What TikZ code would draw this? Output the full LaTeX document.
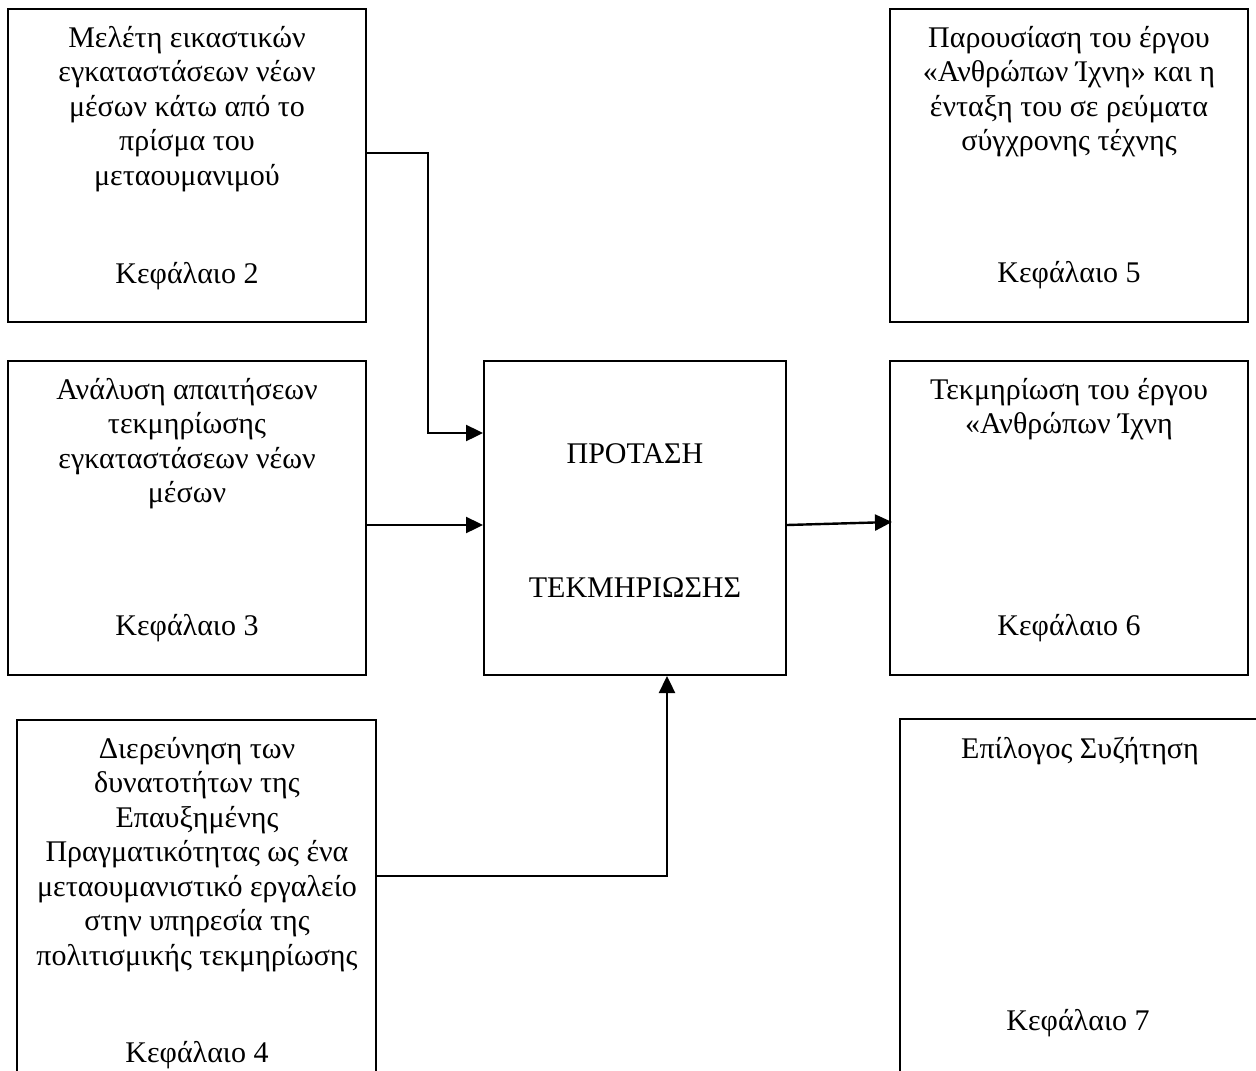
\documentclass[tikz,border=0pt]{standalone}
\usepackage{fontspec}
\setmainfont{Liberation Serif}
\usetikzlibrary{arrows.meta}
\begin{document}
\begin{tikzpicture}[x=1pt,y=-1pt,
  box/.style={draw, line width=2pt, inner sep=0pt},
  txt/.style={font=\fontsize{30}{34.5}\selectfont, align=center, inner sep=0pt},
  arr/.style={line width=2.4pt, -{Triangle[length=17pt,width=16pt]}}]
\useasboundingbox (0,0) rectangle (1256,1071);
\clip (0,0) rectangle (1256,1071);
% boxes
\node[box, minimum width=358pt, minimum height=313pt] (b2) at (187,165.5) {};
\node[box, minimum width=358pt, minimum height=313pt] (b5) at (1069,165.5) {};
\node[box, minimum width=358pt, minimum height=314pt] (b3) at (187,518) {};
\node[box, minimum width=302pt, minimum height=314pt] (c) at (635,518) {};
\node[box, minimum width=358pt, minimum height=314pt] (b6) at (1069,518) {};
\node[box, minimum width=359pt, minimum height=380pt] (b4) at (196.5,910) {};
\node[box, minimum width=360pt, minimum height=381pt] (b7) at (1080,909.5) {};
% texts
\node[txt, anchor=north] (t2) at (187,22.85) {\strut Μελέτη εικαστικών\\εγκαταστάσεων νέων\\μέσων κάτω από το\\πρίσμα του\\μεταουμανιμού};
\node[txt, anchor=base] (k2) at (187,283) {Κεφάλαιο 2};
\node[txt, anchor=north] (t5) at (1069,22.85) {\strut Παρουσίαση του έργου\\«Ανθρώπων Ίχνη» και η\\ένταξη του σε ρεύματα\\σύγχρονης τέχνης};
\node[txt, anchor=base] (k5) at (1069,282) {Κεφάλαιο 5};
\node[txt, anchor=north] (t3) at (187,374.85) {\strut Ανάλυση απαιτήσεων\\τεκμηρίωσης\\εγκαταστάσεων νέων\\μέσων};
\node[txt, anchor=base] (k3) at (187,635) {Κεφάλαιο 3};
\node[txt, anchor=base] (tc1) at (635,463) {ΠΡΟΤΑΣΗ};
\node[txt, anchor=base] (tc2) at (635,597) {ΤΕΚΜΗΡΙΩΣΗΣ};
\node[txt, anchor=north] (t6) at (1069,374.85) {\strut Τεκμηρίωση του έργου\\«Ανθρώπων Ίχνη};
\node[txt, anchor=base] (k6) at (1069,635) {Κεφάλαιο 6};
\node[txt, anchor=north] (t4) at (197,733.85) {\strut Διερεύνηση των\\δυνατοτήτων της\\Επαυξημένης\\Πραγματικότητας ως ένα\\μεταουμανιστικό εργαλείο\\στην υπηρεσία της\\πολιτισμικής τεκμηρίωσης};
\node[txt, anchor=base] (k4) at (197,1062) {Κεφάλαιο 4};
\node[txt, anchor=base] (t7) at (1080,758) {Επίλογος Συζήτηση};
\node[txt, anchor=base] (k7) at (1078,1030) {Κεφάλαιο 7};
% connectors
\coordinate (j1) at (428,153);
\coordinate (j2) at (428,433);
\draw[arr] (b2.east |- j1) -- (j1) -- (j2) -- (c.west |- j2);
\coordinate (j3) at (0,525);
\draw[arr] (b3.east |- j3) -- (c.west |- j3);
\coordinate (j4) at (0,522);
\draw[arr] (c.east |- j3) -- ([xshift=3pt]b6.west |- j4);
\coordinate (j5) at (667,876);
\draw[arr] (b4.east |- j5) -- (j5) -- (c.south -| j5);
\end{tikzpicture}
\end{document}
